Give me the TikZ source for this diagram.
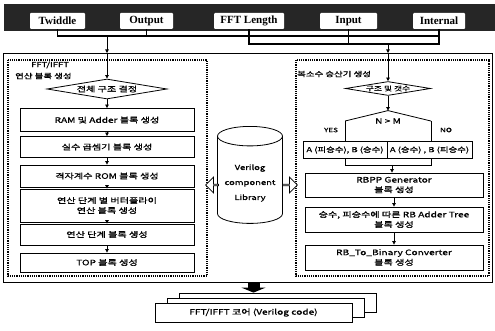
\documentclass[tikz,border=0pt]{standalone}
\usepackage{fontspec}
\usetikzlibrary{shapes.geometric, shapes.arrows, arrows.meta, positioning, shadows}
\newfontfamily\krfont[FakeStretch=1.35, FakeBold=1]{Noto Sans CJK KR}
\newfontfamily\btnfont{Liberation Serif}

\begin{document}
\begin{tikzpicture}[
    x=1pt, y=-1pt,
    on grid,
    every node/.style={font=\krfont\fontsize{7.5}{10}\selectfont},
    btn/.style={rectangle, fill=white, rounded corners=1pt, inner sep=0pt, minimum height=16pt, font=\btnfont\bfseries\fontsize{11}{12}\selectfont},
    dec/.style={diamond, draw, thick, aspect=6, inner sep=0pt},
    proc/.style={rectangle, draw, thick, fill=white, minimum width=174pt, minimum height=21pt, inner sep=1pt, align=center},
    arr/.style={-{Triangle[length=3.5pt, width=3.5pt]}, thick},
    bus/.style={very thick},
    panel/.style={densely dotted, very thick},
    blk/.style={single arrow, draw, thick, fill=white, minimum width=16pt, single arrow head extend=3.5pt, single arrow head indent=0pt, inner sep=0pt},
    ttl/.style={anchor=west, inner sep=0pt, font=\krfont\fontsize{7}{8}\selectfont},
    lbl/.style={inner sep=0pt, font=\krfont\fontsize{6}{7}\selectfont}
]
\useasboundingbox (0,0) rectangle (495,331);

% parameter bar
\fill[black!85] (4,4) rectangle (495,31);
\node[btn, minimum width=55pt] (twid) at (57.5,21) {Twiddle};
\node[btn, minimum width=53pt] (outp) at (146.5,21) {Output};
\node[btn, minimum width=70pt] (flen) at (249,21) {FFT Length};
\node[btn, minimum width=57pt] (inp)  at (348.5,21) {Input};
\node[btn, minimum width=52pt] (intl) at (439,21) {Internal};

\coordinate (hi) at (0,36);
\coordinate (lo) at (0,44);
\coordinate (ftop) at (0,53);
\coordinate (fbot) at (0,282);

% frames
\draw[thick] (3,53) rectangle (492,282);
\draw[panel] (8,60) rectangle (207,276);
\draw[panel] (296,60) rectangle (489,276);

% FFT/IFFT block generation
\node[ttl] (lt1) at (31,65) {FFT/IFFT};
\node[ttl] (lt2) at (15,76) {연산 블록 생성};
\node[dec, minimum width=120pt, minimum height=20pt] (d1) at (107,89) {전체 구조 결정};
\node[proc, minimum height=23pt, below=31pt of d1]   (ram)   {RAM 및 Adder 블록 생성};
\node[proc, below=27pt of ram]                       (mul)   {실수 곱셈기 블록 생성};
\node[proc, minimum height=22pt, below=29pt of mul]  (rom)   {격자계수 ROM 블록 생성};
\node[proc, minimum height=33pt, below=29.5pt of rom] (bfly) {연산 단계 별 버터플라이\\연산 블록 생성};
\node[proc, below=29pt of bfly]                      (stage) {연산 단계 블록 생성};
\node[proc, minimum height=19pt, below=28pt of stage] (topb) {TOP 블록 생성};

% library
\node[cylinder, shape border rotate=90, draw, thick, aspect=0.3, inner xsep=7pt, minimum height=97pt, align=center, font=\krfont\fontsize{7}{15}\selectfont] (lib) at (250,183) {Verilog\\component\\Library};
\node[blk, shape border rotate=180, minimum height=13pt] (inarr) at (212.5,185) {};
\node[blk, minimum height=15pt] (outarr) at (289.5,185) {};

% complex multiplier generation
\node[ttl] (rt) at (297,74) {복소수 승산기 생성};
\node[dec, minimum width=85pt, minimum height=14pt, font=\krfont\fontsize{6.5}{8}\selectfont] (d2) at (388,88.5) {구조 및 갯수};
\node[dec, draw=none, minimum width=85pt, minimum height=20pt, below=32.5pt of d2] (d3) {N > M};
\node[proc, minimum width=84pt, minimum height=17pt, inner sep=0pt, font=\krfont\fontsize{7}{8}\selectfont] (yesb) at (345,150) {A (피승수), B (승수)};
\node[proc, minimum width=85pt, minimum height=17pt, inner sep=0pt, font=\krfont\fontsize{7}{8}\selectfont, right=84.5pt of yesb] (nob) {A (승수) , B (피승수)};
\node[lbl] (yes) at (331,130) {YES};
\node[lbl] (no)  at (446,130) {NO};
\node[proc, minimum width=178pt, minimum height=24pt] (rbpp) at (394,185) {RBPP Generator\\블록 생성};
\node[proc, minimum width=178pt, minimum height=25pt, below=34.5pt of rbpp] (tree) {승수, 피승수에 따른 RB Adder Tree\\블록 생성};
\node[proc, minimum width=178pt, minimum height=25pt, below=38pt of tree] (conv) {RB\_To\_Binary Converter\\블록 생성};
\coordinate (mrg) at (392,165);

% output
\node[draw, thick, fill=white, double copy shadow={shadow xshift=12pt, shadow yshift=5pt}, minimum width=197pt, minimum height=19pt, font=\krfont\fontsize{7.5}{9}\selectfont] (core) at (253.5,312.5) {FFT/IFFT 코어 (Verilog code)};

% buses
\draw[bus] (twid.south) |- (intl.south |- hi);
\draw[bus] (outp.south) -- (outp.south |- hi);
\draw[bus] (flen.south) |- (intl.south |- lo) -- (intl.south);
\draw[bus] (inp.south) -- (inp.south |- lo);
\draw[bus, arr] (d1.north |- hi) -- (d1.north |- ftop);
\draw[arr] (d1.north |- ftop) -- (d1.north);
\draw[bus, arr] (d2.north |- lo) -- (d2.north |- ftop);
\draw[arr] (d2.north |- ftop) -- (d2.north);

\draw[arr] (d1) -- (ram);
\draw[arr] (ram) -- (mul);
\draw[arr] (mul) -- (rom);
\draw[arr] (rom) -- (bfly);
\draw[arr] (bfly) -- (stage);
\draw[arr] (stage) -- (topb);

\draw[arr] (d2) -- (d3);
\draw[thick] (d3.west) -- (d3.north) -- (d3.east);
\draw[thick] (d3.west) -- (d3.west |- yesb.north);
\draw[thick] (d3.east) -- (d3.east |- nob.north);
\draw[thick] (d3.west |- yesb.south) |- (d3.east |- mrg) -- (d3.east |- nob.south);
\draw[arr] (mrg) -- (mrg |- rbpp.north);
\draw[arr] (rbpp) -- (tree);
\draw[arr] (tree) -- (conv);

\draw[line width=12pt, -{Triangle[length=5pt, width=24pt]}] (core.north |- fbot) -- ([yshift=10pt]core.north);
\end{tikzpicture}
\end{document}
